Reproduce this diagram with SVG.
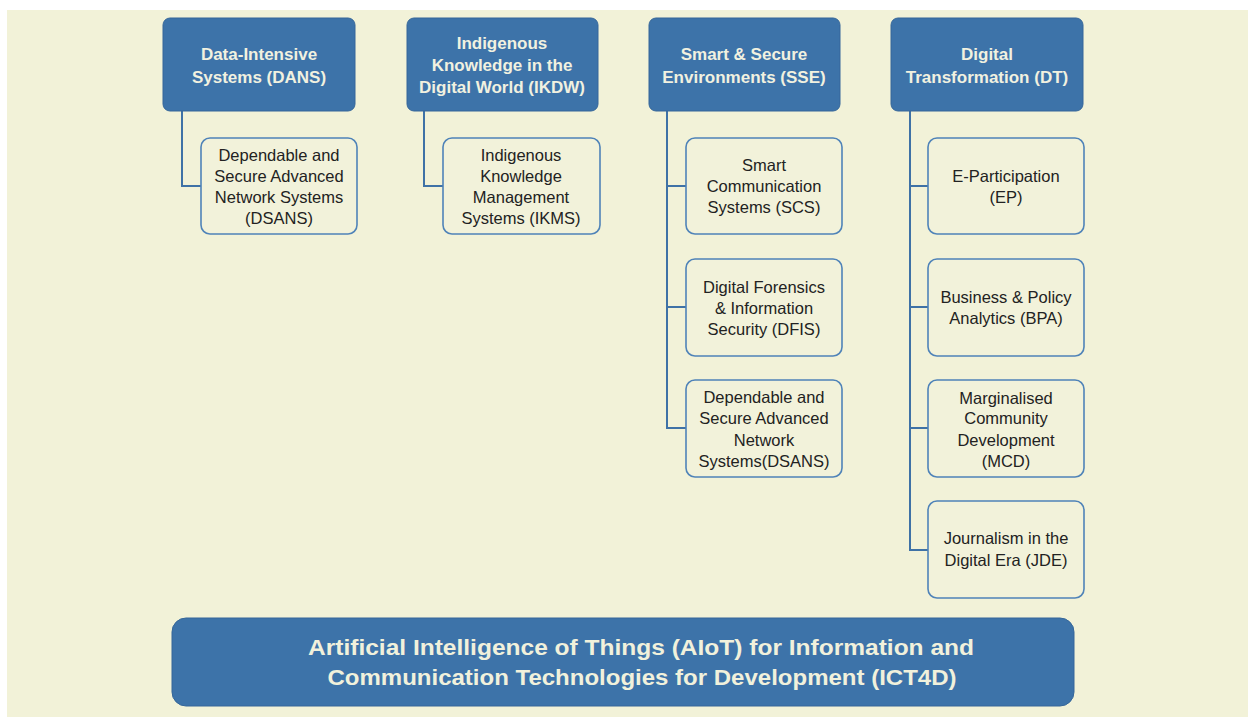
<svg xmlns="http://www.w3.org/2000/svg" width="1248" height="717" viewBox="0 0 1248 717">
<style>
.hdr{fill:#3d73a9;stroke:#36679a;stroke-width:1}
.htx{font-family:"Liberation Sans",Arial,sans-serif;font-size:17px;font-weight:bold;fill:#f1f1e0;text-anchor:middle}
.chd{fill:#f2f2da;stroke:#4f83b8;stroke-width:1.6}
.ctx{font-family:"Liberation Sans",Arial,sans-serif;font-size:16.5px;fill:#222;text-anchor:middle}
.con{fill:none;stroke:#3f72a6;stroke-width:2}
.btx{font-family:"Liberation Sans",Arial,sans-serif;font-size:22px;font-weight:bold;fill:#f1f1dc;text-anchor:middle}
</style>
<rect x="0" y="0" width="1248" height="717" fill="#ffffff"/>
<rect x="7" y="10" width="1241" height="707" fill="#f2f2d8"/>

<g id="connectors">
<path class="con" d="M182 111 V186 H201"/>
<path class="con" d="M424 111 V186 H443"/>
<path class="con" d="M667 111 V428 H686 M667 186 H686 M667 307 H686"/>
<path class="con" d="M910 111 V550 H928 M910 186 H928 M910 307 H928 M910 428 H928"/>
</g>

<g id="dans">
<rect class="hdr" x="163" y="18" width="192" height="93" rx="7"/>
<text class="htx" x="259" y="60">Data-Intensive</text>
<text class="htx" x="259" y="83">Systems (DANS)</text>
</g>
<g id="ikdw">
<rect class="hdr" x="407" y="18" width="191" height="93" rx="7"/>
<text class="htx" x="502" y="49">Indigenous</text>
<text class="htx" x="502" y="71">Knowledge in the</text>
<text class="htx" x="502" y="93">Digital World (IKDW)</text>
</g>
<g id="sse">
<rect class="hdr" x="649" y="18" width="191" height="93" rx="7"/>
<text class="htx" x="744" y="60">Smart &amp; Secure</text>
<text class="htx" x="744" y="83">Environments (SSE)</text>
</g>
<g id="dt">
<rect class="hdr" x="891" y="18" width="192" height="93" rx="7"/>
<text class="htx" x="987" y="60">Digital</text>
<text class="htx" x="987" y="83">Transformation (DT)</text>
</g>

<g id="dsans1">
<rect class="chd" x="201" y="138" width="156" height="96" rx="9"/>
<text class="ctx" x="279" y="161">Dependable and</text>
<text class="ctx" x="279" y="182">Secure Advanced</text>
<text class="ctx" x="279" y="203">Network Systems</text>
<text class="ctx" x="279" y="224">(DSANS)</text>
</g>
<g id="ikms">
<rect class="chd" x="443" y="138" width="157" height="96" rx="9"/>
<text class="ctx" x="521" y="161">Indigenous</text>
<text class="ctx" x="521" y="182">Knowledge</text>
<text class="ctx" x="521" y="203">Management</text>
<text class="ctx" x="521" y="224">Systems (IKMS)</text>
</g>
<g id="scs">
<rect class="chd" x="686" y="138" width="156" height="96" rx="9"/>
<text class="ctx" x="764" y="171">Smart</text>
<text class="ctx" x="764" y="192">Communication</text>
<text class="ctx" x="764" y="213">Systems (SCS)</text>
</g>
<g id="dfis">
<rect class="chd" x="686" y="259" width="156" height="97" rx="9"/>
<text class="ctx" x="764" y="293">Digital Forensics</text>
<text class="ctx" x="764" y="314">&amp; Information</text>
<text class="ctx" x="764" y="335">Security (DFIS)</text>
</g>
<g id="dsans2">
<rect class="chd" x="686" y="380" width="156" height="97" rx="9"/>
<text class="ctx" x="764" y="403">Dependable and</text>
<text class="ctx" x="764" y="424">Secure Advanced</text>
<text class="ctx" x="764" y="446">Network</text>
<text class="ctx" x="764" y="467">Systems(DSANS)</text>
</g>
<g id="ep">
<rect class="chd" x="928" y="138" width="156" height="96" rx="9"/>
<text class="ctx" x="1006" y="182">E-Participation</text>
<text class="ctx" x="1006" y="203">(EP)</text>
</g>
<g id="bpa">
<rect class="chd" x="928" y="259" width="156" height="97" rx="9"/>
<text class="ctx" x="1006" y="303">Business &amp; Policy</text>
<text class="ctx" x="1006" y="324">Analytics (BPA)</text>
</g>
<g id="mcd">
<rect class="chd" x="928" y="380" width="156" height="97" rx="9"/>
<text class="ctx" x="1006" y="404">Marginalised</text>
<text class="ctx" x="1006" y="424">Community</text>
<text class="ctx" x="1006" y="446">Development</text>
<text class="ctx" x="1006" y="467">(MCD)</text>
</g>
<g id="jde">
<rect class="chd" x="928" y="501" width="156" height="97" rx="9"/>
<text class="ctx" x="1006" y="544">Journalism in the</text>
<text class="ctx" x="1006" y="566">Digital Era (JDE)</text>
</g>

<g id="aiot">
<rect x="172" y="618" width="902" height="88" rx="14" fill="#3d73a9" stroke="#36679a" stroke-width="1"/>
<text class="btx" x="641" y="655" textLength="666" lengthAdjust="spacingAndGlyphs">Artificial Intelligence of Things (AIoT) for Information and</text>
<text class="btx" x="642" y="685" textLength="629" lengthAdjust="spacingAndGlyphs">Communication Technologies for Development (ICT4D)</text>
</g>
</svg>
